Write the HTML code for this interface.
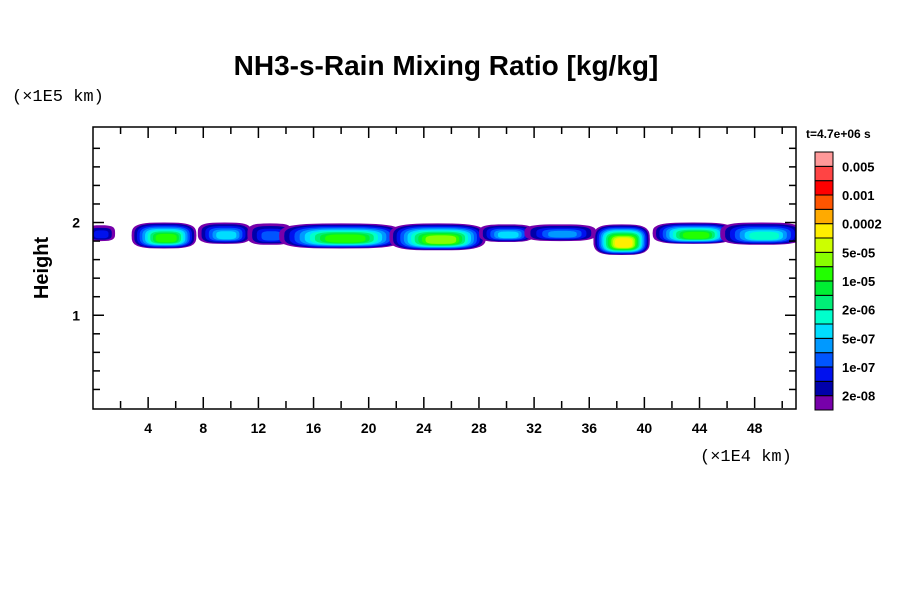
<!DOCTYPE html>
<html><head><meta charset="utf-8"><style>
body{margin:0;background:#fff;width:900px;height:600px;overflow:hidden}
svg{display:block;font-family:"Liberation Sans",sans-serif}
</style></head><body>
<svg id="chart" width="900" height="600">
<text x="446" y="75" text-anchor="middle" font-size="28" font-weight="bold">NH3-s-Rain Mixing Ratio [kg/kg]</text>
<text x="12" y="101" font-size="17" font-family="Liberation Mono,monospace">(×1E5 km)</text>
<text x="700" y="461" font-size="17" font-family="Liberation Mono,monospace">(×1E4 km)</text>
<text transform="translate(48,268) rotate(-90)" text-anchor="middle" font-size="20" font-weight="bold">Height</text>
<text x="806" y="138" font-size="12" font-weight="bold">t=4.7e+06 s</text>
<defs><clipPath id="pc"><rect x="93" y="127" width="703" height="282"/></clipPath></defs>
<g id="field" clip-path="url(#pc)"></g>
<g id="axes"></g>
<g id="cbar"></g>
</svg>
<script>
const colors=["#7700aa","#0000aa","#0011ee","#0055ff","#0099ff","#00ddff","#00ffcc","#00ee77","#00ee33","#22ff00","#88ff00","#ccff00","#ffee00","#ffaa00","#ff5500","#ff0000","#ff4444","#ff9999"];
const cbarLabels=["2e-08","1e-07","5e-07","2e-06","1e-05","5e-05","0.0002","0.001","0.005"];
const xTicks=[4,8,12,16,20,24,28,32,36,40,44,48];
const yTicks=[1,2];
const blobStart=[-0.5,2.8,7.6,11.2,13.5,21.5,28.0,31.3,36.3,40.6,45.5];
const blobEnd=[1.6,7.5,11.5,14.5,22.5,28.5,32.0,36.5,40.4,46.5,51.5];
const blobTop=[1.97,2.0,2.0,1.99,1.99,1.99,1.98,1.98,1.98,2.0,2.0];
const blobBottom=[1.80,1.72,1.77,1.76,1.72,1.70,1.79,1.80,1.65,1.77,1.76];
const blobPeak=[2,9,5,3,9,10,5,4,12,9,6];
const NS="http://www.w3.org/2000/svg";
const X0=93,X1=796,Y0=408,Y1=127,xmax=51,ymax=3.03;
const sx=v=>X0+v*(X1-X0)/xmax, sy=v=>Y0-v*(Y0-Y1)/ymax;
function mk(t,a,p){const e=document.createElementNS(NS,t);for(const k in a)e.setAttribute(k,a[k]);(p||document.getElementById('chart')).appendChild(e);return e;}
function superE(cx,cy,rx,ry){let d='';for(let j=0;j<48;j++){const t=j/48*2*Math.PI,c=Math.cos(t),s=Math.sin(t);
  const x=cx+rx*Math.sign(c)*Math.pow(Math.abs(c),0.6),y=cy+ry*Math.sign(s)*Math.pow(Math.abs(s),0.6);d+=(j?'L':'M')+x.toFixed(1)+' '+y.toFixed(1);}return d+'Z';}
const field=document.getElementById('field');
for(let i=0;i<blobStart.length;i++){
  const cx=(sx(blobStart[i])+sx(blobEnd[i]))/2, rx=(sx(blobEnd[i])-sx(blobStart[i]))/2;
  const cy=(sy(blobTop[i])+sy(blobBottom[i]))/2, ry=(sy(blobBottom[i])-sy(blobTop[i]))/2;
  const n=blobPeak[i];
  for(let k=0;k<=n;k++){
    const fx=1-k/(n+1)*0.75, fy=1-k/(n+1)*0.75;
    const e=mk('path',{d:superE(cx+(1-fx)*rx*0.1,cy+(1-fy)*ry*0.3,rx*fx,ry*fy),fill:colors[k]},field);
    
    
  }
}
const ax=document.getElementById('axes');
const fr=mk('rect',{x:X0,y:Y1,width:X1-X0,height:Y0-Y1+1,fill:'none',stroke:'#000','stroke-width':1.5},ax);


for(let v=2;v<xmax;v+=2){const maj=v%4===0,L=maj?11:7;
  mk('line',{x1:sx(v),x2:sx(v),y1:Y0,y2:Y0-L,stroke:'#000','stroke-width':1.5},ax);
  mk('line',{x1:sx(v),x2:sx(v),y1:Y1,y2:Y1+L,stroke:'#000','stroke-width':1.5},ax);}
for(let j=1;j<15;j++){const v=j*0.2,maj=j%5===0,L=maj?11:7;
  mk('line',{x1:X0,x2:X0+L,y1:sy(v),y2:sy(v),stroke:'#000','stroke-width':1.5},ax);
  mk('line',{x1:X1,x2:X1-L,y1:sy(v),y2:sy(v),stroke:'#000','stroke-width':1.5},ax);}
xTicks.forEach(v=>{const t=mk('text',{x:sx(v),y:433,'text-anchor':'middle','font-size':14,'font-weight':'bold'},ax);t.textContent=v;
  
  });
yTicks.forEach(v=>{const t=mk('text',{x:80,y:sy(v)+5,'text-anchor':'end','font-size':14,'font-weight':'bold'},ax);t.textContent=v;
  
  });
const cb=document.getElementById('cbar');
const cbTop=152,cbBot=410,bh=(cbBot-cbTop)/colors.length;
colors.forEach((c,k)=>{const r=mk('rect',{x:815,y:cbBot-(k+1)*bh,width:18,height:bh,fill:c,stroke:'#000','stroke-width':1},cb);
  
  });
cbarLabels.forEach((s,i)=>{const t=mk('text',{x:842,y:cbBot-(1+2*i)*bh+5,'font-size':13,'font-weight':'bold'},cb);t.textContent=s;
  
  });
</script>
</body></html>
